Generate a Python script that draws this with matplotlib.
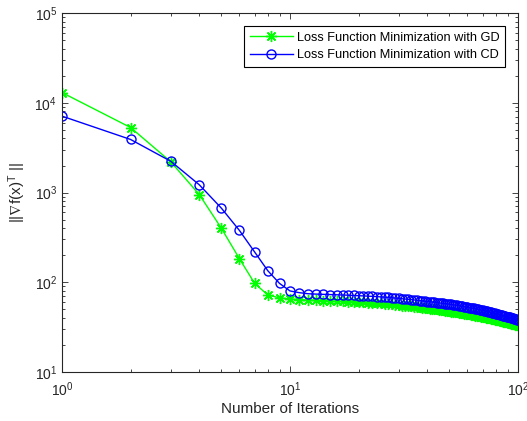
import matplotlib
matplotlib.use('Agg')
import matplotlib.pyplot as plt
from matplotlib.ticker import LogLocator, NullFormatter

plt.rcParams['font.family'] = ['Liberation Sans', 'DejaVu Sans']
plt.rcParams['mathtext.fontset'] = 'custom'
plt.rcParams['mathtext.rm'] = 'Liberation Sans'
plt.rcParams['mathtext.it'] = 'Liberation Sans:italic'
plt.rcParams['mathtext.default'] = 'regular'

# 迭代次数
iterations = list(range(1, 101))

# GD 梯度范数
gd_norm = [13000, 5300, 2200, 950, 400, 183, 97, 72, 67, 65,
           64.0, 63.5, 63.0, 62.5, 62.0, 61.6, 61.2, 60.8, 60.4, 60.0,
           59.6, 59.2, 58.8, 58.4, 58.0, 57.6, 57.2, 56.6, 56.0, 55.4,
           55.0, 54.6, 54.2, 53.8, 53.4, 53.0, 52.6, 52.2, 51.8, 51.4,
           51.0, 50.6, 50.2, 49.8, 49.4, 49.1, 48.8, 48.4, 48.0, 47.6,
           47.2, 46.9, 46.5, 46.2, 45.8, 45.5, 45.1, 44.8, 44.4, 44.1,
           43.8, 43.4, 43.1, 42.8, 42.5, 42.2, 41.9, 41.6, 41.3, 41.0,
           40.7, 40.4, 40.1, 39.8, 39.5, 39.2, 38.9, 38.6, 38.3, 38.0,
           37.7, 37.5, 37.2, 36.9, 36.7, 36.4, 36.2, 35.9, 35.7, 35.4,
           35.2, 34.9, 34.7, 34.4, 34.2, 33.9, 33.7, 33.5, 33.2, 33.0]

# CD 梯度范数
cd_norm = [7100, 3900, 2230, 1220, 670, 378, 217, 134, 97, 80,
           76.5, 74.5, 73.8, 73.3, 72.9, 72.5, 72.1, 71.7, 71.2, 70.8,
           70.4, 70.0, 69.6, 69.1, 68.7, 68.2, 67.7, 67.2, 66.6, 66.0,
           65.5, 65.0, 64.5, 64.0, 63.5, 63.0, 62.5, 62.0, 61.5, 61.0,
           60.6, 60.2, 59.8, 59.4, 59.0, 58.6, 58.2, 57.8, 57.4, 57.0,
           56.6, 56.1, 55.7, 55.3, 54.8, 54.4, 54.0, 53.5, 53.1, 52.7,
           52.3, 51.9, 51.5, 51.1, 50.7, 50.3, 49.9, 49.5, 49.1, 48.7,
           48.3, 47.9, 47.5, 47.1, 46.7, 46.3, 45.9, 45.5, 45.1, 44.7,
           44.3, 44.0, 43.6, 43.3, 42.9, 42.6, 42.2, 41.9, 41.5, 41.2,
           40.9, 40.5, 40.2, 39.9, 39.5, 39.2, 38.9, 38.5, 38.2, 37.9]

fig = plt.figure(figsize=(5.27, 4.21), dpi=100)
ax = fig.add_axes([0.1176, 0.1164, 0.8654, 0.8526])

# 星号标记 (MATLAB 风格)
star = (8, 2, 0)
ax.loglog(iterations, gd_norm, '-', marker=star, color=(0, 1, 0), lw=1,
          ms=8, mew=1, label='Loss Function Minimization with GD')
ax.loglog(iterations, cd_norm, '-o', color=(0, 0, 1), lw=1, ms=6.5,
          mew=1, mfc='none', label='Loss Function Minimization with CD')

ax.set_xlim(1, 100)
ax.set_ylim(10, 1e5)

gray = (0.15, 0.15, 0.15)
for sp in ax.spines.values():
    sp.set_color(gray)
    sp.set_linewidth(0.8)
ax.xaxis.set_major_locator(LogLocator(base=10, numticks=10))
ax.yaxis.set_major_locator(LogLocator(base=10, numticks=10))
ax.xaxis.set_minor_locator(LogLocator(base=10, subs=range(2, 10), numticks=20))
ax.yaxis.set_minor_locator(LogLocator(base=10, subs=range(2, 10), numticks=20))
ax.xaxis.set_minor_formatter(NullFormatter())
ax.yaxis.set_minor_formatter(NullFormatter())
ax.tick_params(which='both', direction='in', top=True, right=True,
               colors=gray, labelsize=10, width=0.6)
ax.tick_params(which='major', length=4)
ax.tick_params(which='minor', length=2.2)
ax.tick_params(axis='x', pad=6)

ax.set_xlabel('Number of Iterations', fontsize=11, color=gray, labelpad=2)
ax.set_ylabel(r'$||\nabla f(x)^T\ ||$', fontsize=11, color=gray, labelpad=5)

leg = ax.legend(loc='upper right', fontsize=9.2, fancybox=False,
                edgecolor='black', framealpha=1, borderpad=0.45,
                handlelength=3.4, handletextpad=0.3, labelspacing=0.45,
                borderaxespad=1.0)
leg.get_frame().set_linewidth(0.8)

fig.savefig('out.png', dpi=100)
